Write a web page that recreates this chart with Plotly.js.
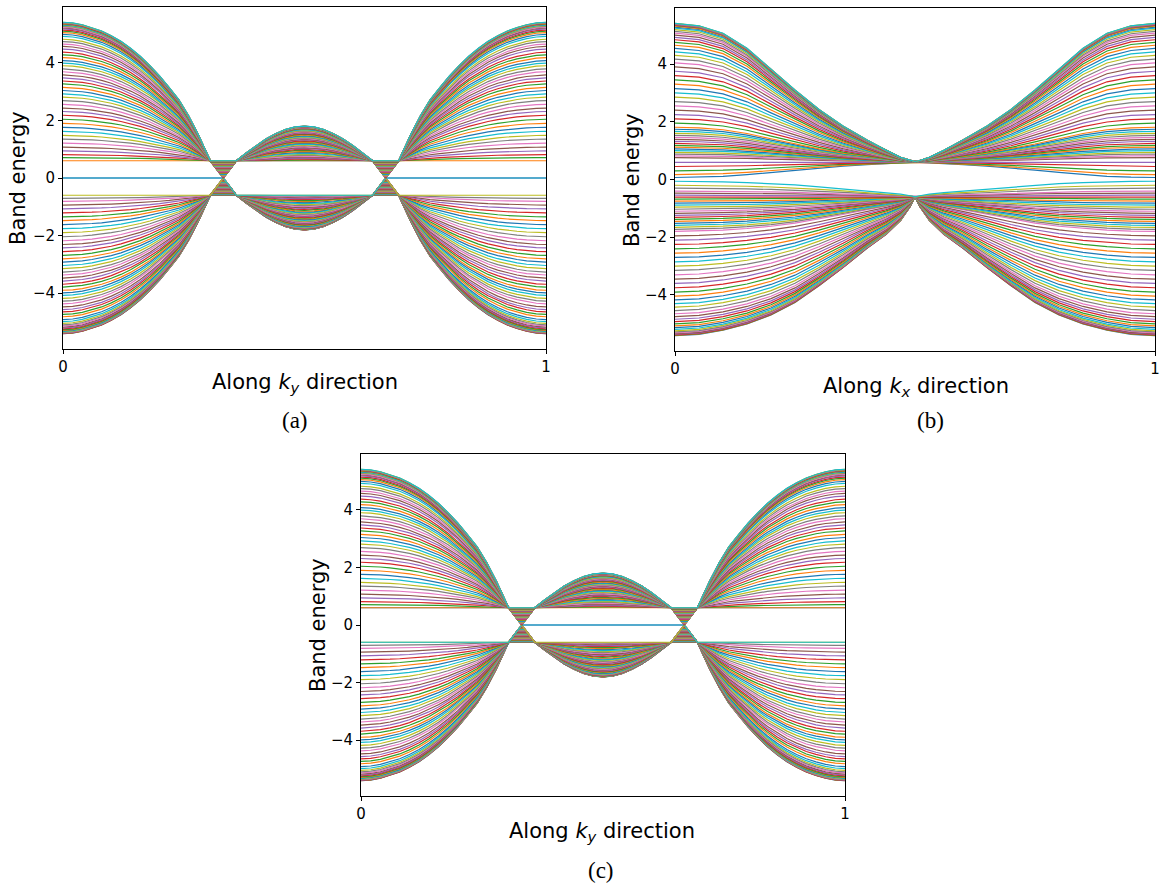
<!DOCTYPE html>
<html><head><meta charset="utf-8">
<script src="https://cdn.plot.ly/plotly-3.0.1.min.js"></script>
<style>html,body{margin:0;padding:0;background:#fff}#chart{width:1161px;height:886px}</style>
</head><body><div id="chart"></div>
<script>
// ---------- data ----------
const GAP = 0.6;
// panels (a) and (c): positive bulk bands (ascending), energy at k=0 (=k=1)
const bandEdgeAC = [0.60,0.71,0.81,0.94,1.07,1.21,1.35,1.48,1.62,1.76,1.90,2.04,2.18,2.31,2.43,2.56,2.69,2.81,2.92,3.04,
  3.15,3.27,3.37,3.48,3.58,3.69,3.79,3.90,3.99,4.08,4.18,4.28,4.37,4.48,4.57,4.65,4.74,4.82,4.92,4.99,
  5.05,5.10,5.14,5.18,5.21,5.24,5.27,5.29,5.31,5.33,5.345,5.36,5.37,5.38,5.39,5.395,5.40,5.405,5.41];
// energy of the same bands at k=0.5 (top of the central dome)
const bandMidAC = [0.600,0.628,0.653,0.685,0.718,0.753,0.788,0.820,0.855,0.890,0.925,0.960,0.995,1.028,1.058,1.090,1.123,1.153,1.180,1.210,
  1.238,1.268,1.293,1.320,1.345,1.373,1.398,1.425,1.448,1.470,1.495,1.520,1.543,1.570,1.593,1.613,1.635,1.655,1.680,1.698,
  1.713,1.725,1.735,1.745,1.753,1.760,1.768,1.773,1.778,1.783,1.786,1.790,1.793,1.795,1.798,1.799,1.800,1.801,1.803];
// flat level of the same bands inside the gap triangles
const bandGapLevelAC = [0.000,0.014,0.026,0.043,0.059,0.076,0.094,0.110,0.128,0.145,0.163,0.180,0.198,0.214,0.229,0.245,0.261,0.276,0.290,0.305,
  0.319,0.334,0.346,0.360,0.373,0.386,0.399,0.413,0.424,0.435,0.448,0.460,0.471,0.485,0.496,0.506,0.518,0.528,0.540,0.549,
  0.556,0.563,0.568,0.573,0.576,0.580,0.584,0.586,0.589,0.591,0.593,0.595,0.596,0.598,0.599,0.599,0.600,0.600,0.600];
// shape of the outer fall (fraction of E-gap) versus k
const outerK = [0,0.02,0.04,0.06,0.08,0.10,0.12,0.14,0.16,0.18,0.20,0.22,0.24,0.26,0.28,0.305];
const outerP = [1,0.995,0.982,0.962,0.937,0.903,0.862,0.812,0.754,0.687,0.612,0.528,0.44,0.325,0.19,0];
// gap triangle: base-left, vertex, base-right (left copy; right one mirrored)
const triK = [0.305,0.332,0.359];
// central dome shape
const domeK = [0.359,0.38,0.40,0.42,0.44,0.46,0.48,0.50];
const domeP = [0,0.23,0.44,0.63,0.78,0.90,0.975,1];
// edge states
const edgeK  = [0,0.305,0.332,0.359,0.641,0.668,0.695,1];
const edgeA1 = [0,0,0,-0.6,-0.6,0,0,0];
const edgeA2 = [0,0,0,0.6,0.6,0,0,0];
const edgeC1 = [-0.6,-0.6,0,0,0,0,-0.6,-0.6];
const edgeC2 = [0.6,0.6,0,0,0,0,0.6,0.6];
// panel (b): energies at k=0 (=k=1), ascending
const bandEdgeBneg = [-5.41,-5.40,-5.39,-5.38,-5.36,-5.34,-5.31,-5.28,-5.24,-5.19,-5.13,-5.07,-5.00,-4.92,-4.84,-4.75,-4.65,-4.54,-4.42,-4.30,
  -4.17,-4.04,-3.90,-3.75,-3.60,-3.45,-3.30,-3.15,-3.00,-2.85,-2.70,-2.55,-2.40,-2.25,-2.10,-1.95,
  -1.80,-1.73,-1.66,-1.59,-1.52,-1.45,-1.38,-1.31,-1.24,-1.17,-1.10,-1.03,-0.96,-0.89,-0.82,-0.75,-0.68,-0.61,-0.54,-0.47,
  -0.40,-0.30,-0.20,-0.06];
const bandEdgeBpos = [0.07,0.17,0.30,0.45,0.59,0.76,
  0.82,0.88,0.94,1.00,1.06,1.12,1.18,1.25,1.32,1.39,1.46,1.53,1.60,1.67,1.74,1.81,
  1.95,2.10,2.25,2.40,2.55,2.70,2.85,3.00,3.15,3.30,3.45,3.60,3.75,3.90,
  4.04,4.17,4.30,4.42,4.54,4.65,4.75,4.84,4.92,5.00,5.07,5.13,5.19,5.24,5.28,5.31,5.34,5.35,5.36,5.38,5.39,5.40,5.405,5.41];
const profBK   = [0,0.05,0.10,0.15,0.20,0.25,0.30,0.35,0.40,0.44,0.47,0.49,0.50];
const profBPos = [1,0.982,0.928,0.82,0.67,0.52,0.38,0.26,0.16,0.085,0.035,0.012,0.005];
const profBNeg = [1,0.99,0.96,0.915,0.85,0.76,0.64,0.51,0.37,0.27,0.17,0.07,0];
// ticks
const kTicks = [0,1], kTickText = ['0','1'], eTicks = [-4,-2,0,2,4];
const palette = ['#1f77b4','#ff7f0e','#2ca02c','#d62728','#9467bd','#8c564b','#e377c2','#7f7f7f','#bcbd22','#17becf'];

// ---------- build traces ----------
function mirrorPath(xs, ys){
  const X = xs.slice(), Y = ys.slice();
  for (let i = xs.length-2; i >= 0; i--){ X.push(1-xs[i]); Y.push(ys[i]); }
  return [X, Y];
}
function bandAC(A, B, L, s){
  const xs = [], ys = [];
  outerK.forEach((k,i)=>{ xs.push(k); ys.push(s*(GAP+(A-GAP)*outerP[i])); });
  const f = 1 - L/GAP;
  xs.push(triK[0]+(triK[1]-triK[0])*f); ys.push(s*L);
  xs.push(triK[2]-(triK[2]-triK[1])*f); ys.push(s*L);
  domeK.forEach((k,i)=>{ xs.push(k); ys.push(s*(GAP+(B-GAP)*domeP[i])); });
  return mirrorPath(xs, ys);
}
function bandB(A, prof){
  const xs = [], ys = [];
  const c = A < 0 ? -GAP : GAP;
  profBK.forEach((k,i)=>{ xs.push(k); ys.push(c+(A-c)*prof[i]); });
  return mirrorPath(xs, ys);
}
const traces = [];
function add(xy, rank, ax){
  traces.push({x: xy[0], y: xy[1], type:'scatter', mode:'lines', xaxis:'x'+ax, yaxis:'y'+ax,
    line:{color: palette[rank%10], width:1.2}, hoverinfo:'skip', showlegend:false});
}
function panelAC(ax, e1, e2){
  let rank = 0;
  const n = bandEdgeAC.length;
  for (let j = n-1; j >= 0; j--) add(bandAC(bandEdgeAC[j], bandMidAC[j], bandGapLevelAC[j], -1), rank++, ax);
  add([edgeK, e1], rank++, ax);
  add([edgeK, e2], rank++, ax);
  for (let j = 0; j < n; j++) add(bandAC(bandEdgeAC[j], bandMidAC[j], bandGapLevelAC[j], 1), rank++, ax);
}
panelAC('', edgeA1, edgeA2);
(function(){
  let rank = 0;
  bandEdgeBneg.forEach(A=>add(bandB(A, profBNeg), rank++, '2'));
  bandEdgeBpos.forEach(A=>add(bandB(A, profBPos), rank++, '2'));
})();
panelAC('3', edgeC1, edgeC2);

// ---------- layout ----------
const W = 1161, H = 886;
const px = v => v/W, py = v => 1 - v/H;
const tickFont = {family:'DejaVu Sans', size:15, color:'#000'};
function xax(d, anchor){ return {domain:d, anchor:anchor, range:[0,1], tickvals:kTicks, ticktext:kTickText,
  showline:true, mirror:true, linecolor:'#000', linewidth:1, ticks:'outside', ticklen:4, tickcolor:'#000',
  showgrid:false, zeroline:false, tickfont:tickFont}; }
function yax(d, anchor){ return {domain:d, anchor:anchor, range:[-5.94,5.94], tickvals:eTicks,
  showline:true, mirror:true, linecolor:'#000', linewidth:1, ticks:'outside', ticklen:4, tickcolor:'#000',
  showgrid:false, zeroline:false, tickfont:tickFont}; }
const lab = {family:'DejaVu Sans', size:21, color:'#000'};
const cap = {family:'Liberation Serif', size:23, color:'#000'};
function ann(text, x, y, font, angle){
  return {text:text, x:px(x), y:py(y), xref:'paper', yref:'paper', showarrow:false, font:font,
    textangle: angle||0, xanchor:'center', yanchor:'middle'};
}
const layout = {
  width:W, height:H, margin:{l:0,r:0,t:0,b:0}, paper_bgcolor:'#fff', plot_bgcolor:'#fff', showlegend:false,
  xaxis: xax([px(63), px(546)], 'y'),   yaxis: yax([py(349), py(7)], 'x'),
  xaxis2: xax([px(675), px(1155)], 'y2'), yaxis2: yax([py(351), py(8)], 'x2'),
  xaxis3: xax([px(361), px(845)], 'y3'), yaxis3: yax([py(796), py(454)], 'x3'),
  annotations:[
    ann('Along <i>k<sub>y</sub></i> direction', 305, 383, lab),
    ann('Band energy', 18, 178, lab, -90),
    ann('(a)', 295, 420, cap),
    ann('Along <i>k<sub>x</sub></i> direction', 916, 387, lab),
    ann('Band energy', 632, 180, lab, -90),
    ann('(b)', 930, 420, cap),
    ann('Along <i>k<sub>y</sub></i> direction', 602, 832, lab),
    ann('Band energy', 318, 625, lab, -90),
    ann('(c)', 601, 870, cap)
  ]
};
Plotly.newPlot('chart', traces, layout, {displayModeBar:false, staticPlot:true});
</script></body></html>
